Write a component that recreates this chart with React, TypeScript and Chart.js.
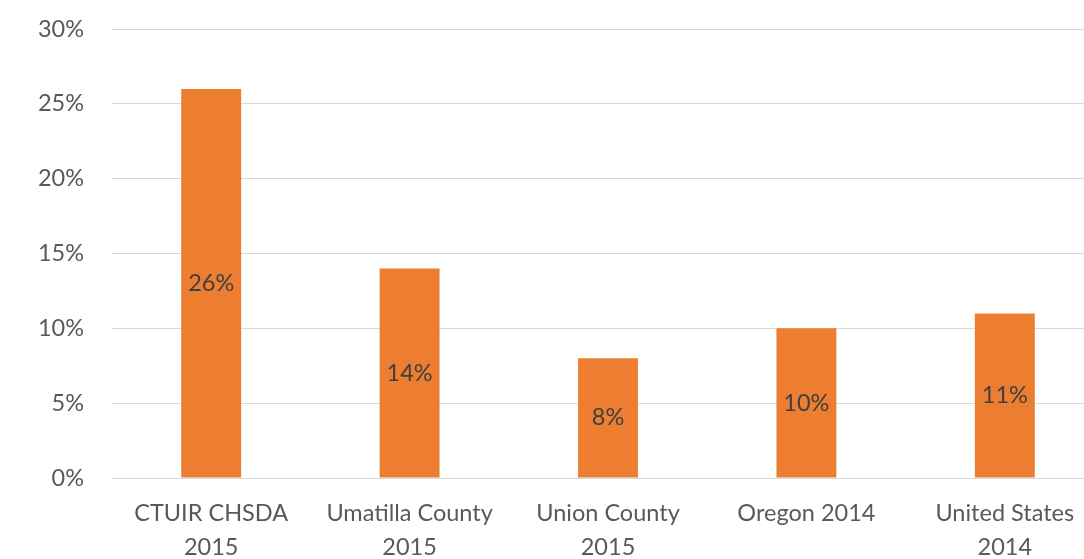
import React, { useEffect, useRef } from "react";
import { Chart, registerables } from "chart.js";

Chart.register(...registerables);

const categories: string[][] = [
  ["CTUIR CHSDA", "2015"],
  ["Umatilla County", "2015"],
  ["Union County", "2015"],
  ["Oregon 2014"],
  ["United States", "2014"],
];
const values: number[] = [26, 14, 8, 10, 11];
const yMin = 0;
const yMax = 30;
const yStep = 5;

const FONT = "Lato";
const FONT_SIZE = 23.5;
const CANVAS_W = 1104;
const CANVAS_H = 600;
const SHIFT = 13;

const barLabelPlugin = {
  id: "barLabels",
  afterDatasetsDraw(chart: any) {
    const ctx = chart.ctx;
    const meta = chart.getDatasetMeta(0);
    ctx.save();
    ctx.font = `${FONT_SIZE}px ${FONT}`;
    ctx.fillStyle = "#404040";
    ctx.textAlign = "center";
    ctx.textBaseline = "middle";
    meta.data.forEach((el: any, i: number) => {
      const v = chart.data.datasets[0].data[i];
      const y = (el.y + el.base) / 2;
      ctx.fillText(`${v}%`, el.x, y);
    });
    ctx.restore();
  },
};

export default function App() {
  const ref = useRef<HTMLCanvasElement>(null);
  useEffect(() => {
    if (!ref.current) return;
    const chart = new Chart(ref.current, {
      type: "bar",
      data: {
        labels: categories,
        datasets: [
          {
            data: values,
            backgroundColor: "#ED7D31",
            borderWidth: 0,
            categoryPercentage: 1,
            barPercentage: 0.302,
          },
        ],
      },
      options: {
        responsive: false,
        animation: false,
        events: [],
        layout: { padding: { top: 17, right: 0, left: 0, bottom: 0 } },
        plugins: {
          legend: { display: false },
          tooltip: { enabled: false },
        },
        scales: {
          x: {
            grid: { display: false, drawTicks: false },
            border: { display: true, color: "#d9d9d9", width: 1 },
            ticks: {
              color: "#595959",
              font: { family: FONT, size: FONT_SIZE, lineHeight: "34px" },
              padding: 18,
              maxRotation: 0,
              autoSkip: false,
            },
            afterFit: (scale: any) => {
              scale.height = CANVAS_H - 478 - SHIFT;
            },
          },
          y: {
            min: yMin,
            max: yMax,
            grid: { color: "#d9d9d9", lineWidth: 1, drawTicks: false },
            border: { display: false },
            ticks: {
              stepSize: yStep,
              color: "#595959",
              font: { family: FONT, size: FONT_SIZE },
              padding: 28,
              callback: (v: any) => `${v}%`,
            },
            afterFit: (scale: any) => {
              scale.width = 112;
            },
          },
        },
      },
      plugins: [barLabelPlugin],
    });
    return () => chart.destroy();
  }, []);
  return (
    <div
      style={{
        position: "fixed",
        left: 0,
        top: 0,
        width: 1084,
        height: 559,
        overflow: "hidden",
        background: "#ffffff",
      }}
    >
      <canvas
        ref={ref}
        width={CANVAS_W}
        height={CANVAS_H}
        style={{ display: "block", position: "absolute", left: 0, top: -SHIFT }}
      />
    </div>
  );
}
